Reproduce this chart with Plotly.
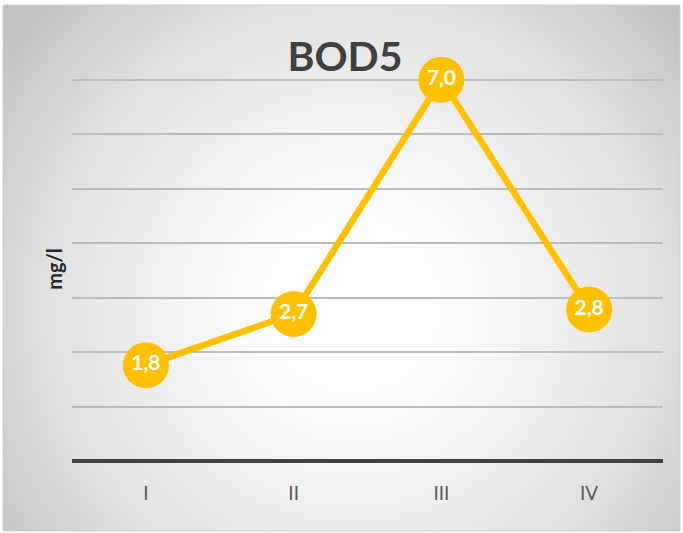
import base64
import plotly.graph_objects as go

categories = ["I", "II", "III", "IV"]
values = [1.76, 2.7, 7.0, 2.78]
title_text = "BOD5"
y_title = "mg/l"

W, H = 683, 533
ML, MR, MT, MB = 72, 20, 77, 72
pw, ph = W - ML - MR, H - MT - MB

svg = (
    '<svg xmlns="http://www.w3.org/2000/svg" width="677" height="526" viewBox="0 0 677 526" preserveAspectRatio="none">'
    '<defs><radialGradient id="g" gradientUnits="userSpaceOnUse" cx="350" cy="300" r="440">'
    '<stop offset="0" stop-color="#ffffff"/><stop offset="0.25" stop-color="#fcfcfc"/>'
    '<stop offset="0.7" stop-color="#e0e0e0"/>'
    '<stop offset="1" stop-color="#c0c0c0"/></radialGradient></defs>'
    '<rect x="0" y="0" width="677" height="526" fill="url(#g)"/></svg>'
)
uri = "data:image/svg+xml;base64," + base64.b64encode(svg.encode()).decode()

def px2x(p):
    return (p - ML) / pw

def py2y(p):
    return (H - MB - p) / ph

fig = go.Figure()
fig.add_trace(go.Scatter(
    x=categories, y=values, mode="lines+markers+text",
    line=dict(color="#FFC000", width=6.5),
    marker=dict(size=46, color="#FFC000"),
    text=values, texttemplate="%{y:.1f}", textposition="middle center",
    textfont=dict(family="Lato", size=21, color="white", weight="bold"),
    cliponaxis=False, hoverinfo="skip", showlegend=False,
))

fig.update_layout(
    width=W, height=H,
    margin=dict(l=ML, r=MR, t=MT, b=MB),
    paper_bgcolor="white", plot_bgcolor="rgba(0,0,0,0)",
    separators=",.",
    title=dict(text=title_text, x=345 / W, xref="container", xanchor="center",
               y=1 - 57 / H, yref="container", yanchor="middle",
               font=dict(family="Lato", size=41, color="#404040", weight="bold")),
    images=[dict(source=uri, xref="paper", yref="paper",
                 x=px2x(3), y=py2y(5), sizex=px2x(680) - px2x(3), sizey=py2y(5) - py2y(531),
                 xanchor="left", yanchor="top", sizing="stretch", layer="below")],
    shapes=[dict(type="rect", xref="paper", yref="paper",
                 x0=px2x(3), x1=px2x(680), y0=py2y(531), y1=py2y(5),
                 line=dict(color="#d0d0d0", width=1), layer="below")],
)
fig.update_xaxes(
    range=[-0.5, 3.5], showgrid=False, showline=False, zeroline=False,
    ticks="outside", ticklen=15, tickcolor="rgba(0,0,0,0)",
    tickfont=dict(family="Lato", size=19, color="#595959"),
)
fig.update_yaxes(
    range=[0, 7.05], dtick=1, showticklabels=False, showgrid=True,
    gridcolor="#bcbcbc", gridwidth=1.5, zeroline=True, zerolinecolor="#404040",
    zerolinewidth=3.5, showline=False,
    title=dict(text=y_title, standoff=3,
               font=dict(family="Lato", size=20, color="#262626", weight="bold")),
)

fig.write_html("out.html", config={"displayModeBar": False},
               post_script="document.body.style.margin='0';")
